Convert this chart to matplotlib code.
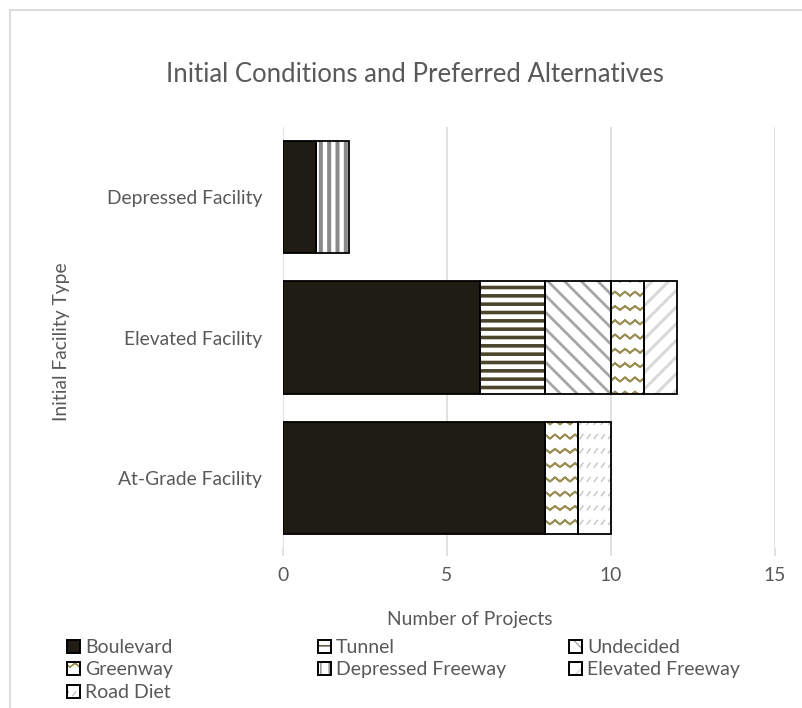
import warnings
import numpy as np
import matplotlib
matplotlib.use('Agg')
import matplotlib.pyplot as plt
import matplotlib.hatch as mhatch
import matplotlib.patches as mpatches
from matplotlib.path import Path
from matplotlib.lines import Line2D

warnings.filterwarnings('ignore', message='.*hatch must consist.*')

# data (bottom to top, as drawn)
categories = ['At-Grade Facility', 'Elevated Facility', 'Depressed Facility']
series = ['Boulevard', 'Tunnel', 'Undecided', 'Greenway',
          'Depressed Freeway', 'Elevated Freeway', 'Road Diet']
boulevard = [8, 6, 1]
tunnel = [0, 2, 0]
undecided = [0, 2, 0]
greenway = [1, 1, 0]
depressed_fwy = [0, 0, 1]
elevated_fwy = [0, 1, 0]
road_diet = [1, 0, 0]
values = [boulevard, tunnel, undecided, greenway, depressed_fwy, elevated_fwy, road_diet]

# style per series: face colour, hatch, hatch colour, hatch width
styles = [
    ('#1f1c13', None, '#1f1c13', 1.0),
    ('white', '--', '#4b452c', 2.6),
    ('white', '\\\\', '#a6a6a6', 2.0),
    ('white', 'z', '#9b8f55', 1.3),
    ('white', '||', '#8a8a8a', 2.9),
    ('white', '//', '#d9d9d9', 2.2),
    ('white', 'd', '#c4c4c4', 1.0),
]


# two extra hatch patterns Excel uses: wavy lines and small dashes
class ZigZagHatch(mhatch.HatchPatternBase):
    def __init__(self, hatch, density):
        self.num_rows = hatch.count('z') * 7
        self.num_zig = 10
        self.num_vertices = self.num_rows * (4 * self.num_zig + 2)

    def set_vertices_and_codes(self, vertices, codes):
        n = 2 * self.num_zig + 1
        xs = np.linspace(0, 1, n)
        bump = np.where(np.arange(n) % 2, 0.04, 0.0)
        k = 0
        for i in range(self.num_rows):
            y0 = (i + 0.3) / self.num_rows
            ys = y0 + bump
            row = np.column_stack([np.r_[xs, xs[::-1]], np.r_[ys, ys[::-1]]])
            vertices[k:k + 2 * n] = row
            codes[k:k + 2 * n] = Path.LINETO
            codes[k] = Path.MOVETO
            k += 2 * n


class DashHatch(mhatch.HatchPatternBase):
    def __init__(self, hatch, density):
        self.num_rows = hatch.count('d') * 7
        self.num_cols = 14
        self.num_vertices = self.num_rows * self.num_cols * 2

    def set_vertices_and_codes(self, vertices, codes):
        k = 0
        for i in range(self.num_rows):
            y0 = (i + 0.3) / self.num_rows
            for j in range(self.num_cols):
                x0 = (j + 0.2) / self.num_cols
                vertices[k] = (x0, y0)
                vertices[k + 1] = (x0 + 0.03, y0 + 0.04)
                codes[k] = Path.MOVETO
                codes[k + 1] = Path.LINETO
                k += 2


mhatch._hatch_types.append(ZigZagHatch)
mhatch._hatch_types.append(DashHatch)

plt.rcParams['font.family'] = ['Lato', 'DejaVu Sans']
text_color = '#595959'
grid_color = '#d9d9d9'
fs = 13.9

fig = plt.figure(figsize=(8.02, 7.08), dpi=100)
ax = fig.add_axes([283 / 802, 1 - 548 / 708, 492 / 802, 421 / 708])

y = np.arange(len(categories))
left = np.zeros(len(categories))
handles = []
for name, vals, (face, hatch, hcolor, hlw) in zip(series, values, styles):
    vals = np.array(vals, dtype=float)
    with plt.rc_context({'hatch.linewidth': hlw}):
        fill = ax.barh(y, vals, left=left, height=0.8, color=face,
                       hatch=hatch, edgecolor=hcolor, linewidth=0, zorder=2)
        for p in fill:
            if hasattr(p, 'set_hatch_linewidth'):
                p.set_hatch_linewidth(hlw)
        hp = mpatches.Patch(facecolor=face, hatch=hatch, edgecolor=hcolor, linewidth=0)
        if hasattr(hp, 'set_hatch_linewidth'):
            hp.set_hatch_linewidth(hlw)
    ax.barh(y, vals, left=left, height=0.8, fill=False, edgecolor='black',
            linewidth=np.where(vals > 0, 1.3, 0), zorder=3)
    op = mpatches.Patch(fill=False, edgecolor='black', linewidth=1.4)
    handles.append((hp, op))
    left += vals

ax.set_xlim(0, 15)
ax.set_ylim(-0.5, 2.5)
ax.set_xticks([0, 5, 10, 15])
ax.set_yticks(y)
ax.set_yticklabels(categories)
ax.xaxis.grid(True, color=grid_color, linewidth=1.1, zorder=0)
ax.set_axisbelow(True)
for s in ax.spines.values():
    s.set_visible(False)
ax.tick_params(axis='x', length=6, width=1.1, color=grid_color, pad=8,
               labelsize=fs, labelcolor=text_color)
ax.tick_params(axis='y', length=0, pad=15, labelsize=fs, labelcolor=text_color)

ax.set_xlabel('Number of Projects', fontsize=fs, color=text_color)
ax.xaxis.set_label_coords((470 - 283) / 492, (708 - 619 - 160) / 421)
ax.xaxis.label.set_va('center')
ax.set_ylabel('Initial Facility Type', fontsize=fs, color=text_color)
ax.yaxis.set_label_coords((62 - 283) / 492, (708 - 342 - 160) / 421)
ax.yaxis.label.set_va('center')

fig.text(415 / 802, 1 - 75 / 708, 'Initial Conditions and Preferred Alternatives',
         ha='center', va='center', fontsize=18.5, color=text_color)

# legend laid out in three equal columns, row by row like Excel
columns = [[0, 3, 6], [1, 4], [2, 5]]
col_x = [67, 318, 569]
for idx, cx in zip(columns, col_x):
    fig.legend([handles[i] for i in idx], [series[i] for i in idx],
               loc='upper left', bbox_to_anchor=(cx / 802, 1 - 639 / 708),
               frameon=False, borderpad=0, borderaxespad=0, fontsize=14,
               labelcolor=text_color, handlelength=0.66, handleheight=0.66,
               handletextpad=0.27, labelspacing=0.28)

# chart area border (top and left edges are visible)
fig.add_artist(Line2D([10 / 802, 10 / 802], [0, 1 - 10 / 708], color=grid_color, lw=1.3))
fig.add_artist(Line2D([10 / 802, 1], [1 - 10 / 708, 1 - 10 / 708], color=grid_color, lw=1.3))

fig.savefig('out.png', dpi=100)
